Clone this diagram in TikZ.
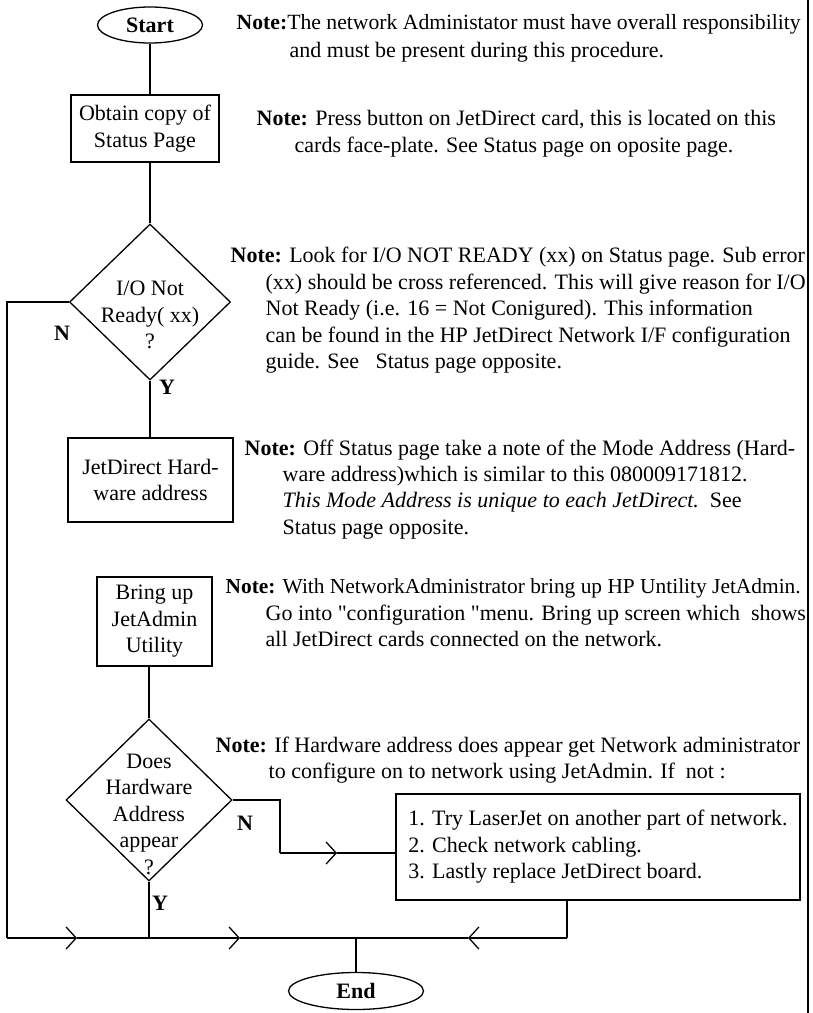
\documentclass[tikz,border=0pt]{standalone}
\usepackage{fontspec}
\setmainfont{Liberation Serif}
\usetikzlibrary{shapes.geometric,arrows.meta}
\begin{document}
\begin{tikzpicture}[x=1pt,y=-1pt, line width=1.3pt,
  font=\fontsize{22}{26.5}\selectfont,
  box/.style={draw, rectangle, align=center, inner sep=0pt},
  term/.style={draw, ellipse, inner sep=0pt, font=\fontsize{22}{26.5}\selectfont\bfseries},
  dia/.style={draw, diamond, inner sep=0pt},
  dtext/.style={align=center, inner sep=0pt},
  lbl/.style={font=\fontsize{22}{26.5}\selectfont\bfseries, inner sep=0pt},
  nl/.style={anchor=base west, inner sep=0pt},
  chev/.style={-{Straight Barb[length=10pt,width=22pt]}},
]
\useasboundingbox (0,0) rectangle (813,1013);

% flow nodes
\node[term, minimum width=105pt, minimum height=36pt] (start) at (150,25) {Start};
\node[box, minimum width=148pt, minimum height=67pt] (obtain) at (145,128.5) {Obtain copy of\\Status Page};
\node[dia, minimum width=161pt, minimum height=156pt] (d1) at (150,302) {};
\node[dtext] (d1t) at (150,315) {I/O Not\\Ready( xx)\\?};
\node[box, minimum width=165pt, minimum height=84pt] (jd) at (150.5,480) {JetDirect Hard-\\ware address};
\node[box, minimum width=115pt, minimum height=89pt] (bring) at (154.5,621.5) {Bring up\\JetAdmin\\Utility};
\node[dia, minimum width=166pt, minimum height=162pt] (d2) at (149,800) {};
\node[dtext] (d2t) at (149,814) {Does\\Hardware\\Address\\appear\\?};
\node[box, align=left, minimum width=404pt, minimum height=106pt] (act) at (598,847)
  {1. Try LaserJet on another part of network.\\2. Check network cabling.\\3. Lastly replace JetDirect board.};
\node[term, minimum width=135pt, minimum height=37pt] (end) at (356,991) {End};

% labels
\node[lbl] (n1) at (62,333) {N};
\node[lbl] (y1) at (167,387) {Y};
\node[lbl] (n2) at (245,823) {N};
\node[lbl] (y2) at (160,903) {Y};

% coordinates
\coordinate (c2) at (7,938);
\coordinate (a1) at (77,938);
\coordinate (j1) at (149,938);
\coordinate (a2) at (240,938);
\coordinate (j2) at (356,938);
\coordinate (a3) at (468,938);
\coordinate (c3) at (567,938);
\coordinate (c5) at (280,853);
\coordinate (a4) at (337,853);

% connectors
\draw (start.south) -- (start.south |- obtain.north);
\draw (obtain.south -| d1.north) -- (d1.north);
\draw (d1.south) -- (d1.south |- jd.north);
\draw (jd.south -| d1.south) -- (jd.south -| d1.south |- bring.north);
\draw (bring.south -| d2.north) -- (d2.north);
\draw (d1.west) -| (c2);
\draw[chev] (c2) -- (a1);
\draw (a1) -- (j1);
\draw (d2.south) -- (j1);
\draw[chev] (j1) -- (a2);
\draw (a2) -- (j2);
\draw (act.south -| c3) -- (c3);
\draw[chev] (c3) -- (a3);
\draw (a3) -- (j2);
\draw (j2) -- (end.north);
\draw (d2.east) -| (c5);
\draw[chev] (c5) -- (a4);
\draw (a4) -- (c5 -| act.west);

% right border
\draw (808,0) -- (808,1013);

% notes
\node[nl] (n1a) at (236,29) {\fontsize{21.7}{26.5}\selectfont\textbf{Note:}The network Administator must have overall responsibility};
\node[nl] (n1b) at (289,57) {and must be present during this procedure.};

\node[nl] (n2a) at (256,125) {\textbf{Note:} Press button on JetDirect card, this is located on this};
\node[nl] (n2b) at (294,152) {cards face-plate. See Status page on oposite page.};

\node[nl] (n3a) at (230,262) {\textbf{Note:} Look for I/O NOT READY (xx) on Status page. Sub error};
\node[nl] (n3b) at (265,289) {(xx) should be cross referenced. This will give reason for I/O};
\node[nl] (n3c) at (265,315) {Not Ready (i.e. 16 = Not Conigured). This information};
\node[nl] (n3d) at (265,342) {can be found in the HP JetDirect Network I/F configuration};
\node[nl] (n3e) at (265,368) {guide. See \ \ Status page opposite.};

\node[nl] (n4a) at (244,455) {\textbf{Note:} Off Status page take a note of the Mode Address (Hard-};
\node[nl] (n4b) at (282,481) {ware address)which is similar to this 080009171812.};
\node[nl] (n4c) at (282,507) {\textit{This Mode Address is unique to each JetDirect.}\ \ See};
\node[nl] (n4d) at (282,534) {Status page opposite.};

\node[nl] (n5a) at (225,593) {\fontsize{21.4}{26.5}\selectfont\textbf{Note:} With NetworkAdministrator bring up HP Untility JetAdmin.};
\node[nl] (n5b) at (265,620) {Go into \textquotedbl configuration \textquotedbl menu. Bring up screen which \ shows};
\node[nl] (n5c) at (265,646) {all JetDirect cards connected on the network.};

\node[nl] (n6a) at (215,752) {\textbf{Note:} If Hardware address does appear get Network administrator};
\node[nl] (n6b) at (268,778) {to configure on to network using JetAdmin. If \ not :};
\end{tikzpicture}
\end{document}
